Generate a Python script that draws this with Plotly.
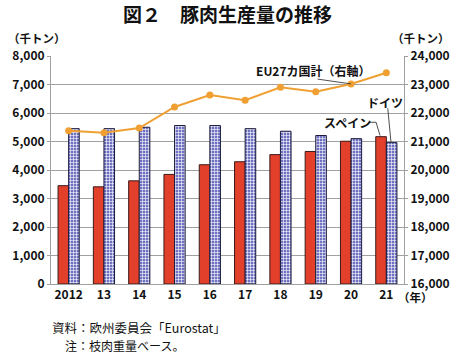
import plotly.graph_objects as go

years = ["2012", "13", "14", "15", "16", "17", "18", "19", "20", "21"]
spain = [3450, 3410, 3620, 3845, 4185, 4290, 4540, 4650, 5010, 5170]
germany = [5450, 5450, 5500, 5560, 5560, 5450, 5360, 5210, 5100, 4960]
eu27 = [21380, 21310, 21470, 22210, 22630, 22450, 22900, 22750, 23020, 23410]
left_ticks = [0, 1000, 2000, 3000, 4000, 5000, 6000, 7000, 8000]
right_ticks = [16000, 17000, 18000, 19000, 20000, 21000, 22000, 23000, 24000]

FONT = "Noto Sans CJK JP"
RED = "#E2402A"
BLUE = "#6E72C0"
ORANGE = "#F0A033"
GRID = "#A0A0A0"

fig = go.Figure()
fig.add_trace(go.Bar(x=years, y=spain, name="スペイン",
                     marker=dict(color=RED, line=dict(color="#3a1a1a", width=1))))
fig.add_trace(go.Bar(x=years, y=germany, name="ドイツ",
                     marker=dict(color=BLUE, line=dict(color="#1a1a3a", width=1),
                                 pattern=dict(shape="+", fgcolor="white", bgcolor=BLUE,
                                              size=3, solidity=0.35, fillmode="replace"))))
fig.add_trace(go.Scatter(x=years, y=eu27, yaxis="y2", mode="lines+markers",
                         line=dict(color=ORANGE, width=2),
                         marker=dict(color=ORANGE, size=7), name="EU27"))

tickfont = dict(family=FONT, size=12, color="#111", weight=600)

fig.update_layout(
    width=462, height=353,
    margin=dict(l=45, r=50, t=56, b=69),
    paper_bgcolor="white", plot_bgcolor="white",
    showlegend=False,
    barmode="group", bargap=0.4, bargroupgap=0,
    font=dict(family=FONT, size=12, color="#111"),
    xaxis=dict(type="category", showline=True, linecolor=GRID, linewidth=1,
               ticks="", tickfont=tickfont, range=[-0.5, 9.5]),
    yaxis=dict(range=[0, 8000], tickvals=left_ticks, tickformat=",",
               showgrid=True, gridcolor=GRID, gridwidth=1,
               showline=True, linecolor=GRID, ticks="outside", ticklen=3,
               tickcolor=GRID, zeroline=False, tickfont=tickfont),
    yaxis2=dict(range=[16000, 24000], tickvals=right_ticks, tickformat=",",
                overlaying="y", side="right", showgrid=False,
                showline=True, linecolor=GRID, ticks="outside", ticklen=3,
                tickcolor=GRID, zeroline=False, tickfont=tickfont),
)

# Title & labels
fig.add_annotation(text="<b>図２　豚肉生産量の推移</b>", xref="paper", yref="paper",
                   x=0.5, y=1, yshift=43, xanchor="center", yanchor="middle",
                   showarrow=False, font=dict(family=FONT, size=19, color="#111"))
fig.add_annotation(text="（千トン）", xref="paper", yref="paper", x=0, xshift=-45,
                   y=1, yshift=18, xanchor="left", yanchor="middle", showarrow=False,
                   font=dict(family=FONT, size=11.5, weight=600))
fig.add_annotation(text="（千トン）", xref="paper", yref="paper", x=1, xshift=48,
                   y=1, yshift=18, xanchor="right", yanchor="middle", showarrow=False,
                   font=dict(family=FONT, size=11.5, weight=600))
fig.add_annotation(text="（年）", xref="paper", yref="paper", x=1, xshift=-8,
                   y=0, yshift=-13, xanchor="left", yanchor="middle", showarrow=False,
                   font=dict(family=FONT, size=11.5, weight=600))
fig.add_annotation(text="資料：欧州委員会「Eurostat」", xref="paper", yref="paper",
                   x=0, xshift=-1, y=0, yshift=-43, xanchor="left", yanchor="middle",
                   showarrow=False, font=dict(family=FONT, size=12.5))
fig.add_annotation(text="注：枝肉重量ベース。", xref="paper", yref="paper",
                   x=0, xshift=12, y=0, yshift=-61, xanchor="left", yanchor="middle",
                   showarrow=False, font=dict(family=FONT, size=12))

# Series labels with leader lines
fig.add_annotation(text="EU27カ国計（右軸）", x=6.94, y=23480, xref="x", yref="y2",
                   showarrow=False, xanchor="center", yanchor="middle",
                   font=dict(family=FONT, size=12, weight=600))
fig.add_shape(type="line", xref="x", yref="y2", x0=7.05, y0=23190, x1=8.0, y1=23020,
              line=dict(color="#222", width=0.8))
fig.add_annotation(text="スペイン", x=7.89, y=5674, xref="x", yref="y",
                   showarrow=False, xanchor="center", yanchor="middle",
                   font=dict(family=FONT, size=12, weight=600))
fig.add_shape(type="path", xref="x", yref="y",
              path="M 8.49 5674 L 8.71 5674 L 8.82 5210",
              line=dict(color="#222", width=0.8))
fig.add_annotation(text="ドイツ", x=8.95, y=6377, xref="x", yref="y",
                   showarrow=False, xanchor="center", yanchor="middle",
                   font=dict(family=FONT, size=12, weight=600))
fig.add_shape(type="line", xref="x", yref="y", x0=9.04, y0=6166, x1=9.13, y1=4990,
              line=dict(color="#222", width=0.8))

fig.write_html("out.html")
